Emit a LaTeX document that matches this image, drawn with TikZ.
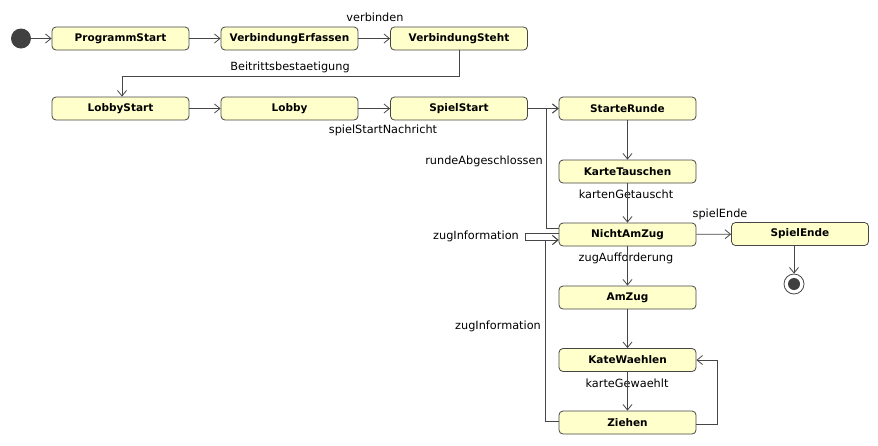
\documentclass[tikz,border=0pt]{standalone}
\usepackage{fontspec}
\setmainfont{DejaVu Sans}
\usetikzlibrary{arrows.meta}

\definecolor{statefill}{RGB}{255,255,204}
\definecolor{stateline}{RGB}{70,70,70}
\definecolor{dotfill}{RGB}{64,64,64}

\tikzset{
    state/.style={draw=stateline, fill=statefill, rounded corners=4pt, line width=0.8pt,
        minimum width=137pt, minimum height=23pt, inner sep=0pt,
        font=\fontsize{10.5}{12}\selectfont\bfseries},
    trans/.style={draw=stateline, line width=0.8pt, -{Straight Barb[length=5.5pt,width=9pt]}},
    lbl/.style={font=\fontsize{11.3}{13}\selectfont, inner sep=0pt}
}

\begin{document}
\begin{tikzpicture}[x=1pt, y=-1pt]
    \useasboundingbox (0,0) rectangle (878,445);

    \node[circle, fill=dotfill, minimum size=20pt, inner sep=0pt] (start) at (21,38.5) {};
    \node[state] (programmstart) at (120.5,38.5) {ProgrammStart};
    \node[state] (verbindungerfassen) at (289.5,38.5) {VerbindungErfassen};
    \node[state] (verbindungsteht) at (459,38.5) {VerbindungSteht};

    \node[state] (lobbystart) at (120.5,108.5) {LobbyStart};
    \node[state] (lobby) at (289.5,108.5) {Lobby};
    \node[state] (spielstart) at (459,108.5) {SpielStart};

    \node[state] (starterunde) at (627.5,108.5) {StarteRunde};
    \node[state] (kartetauschen) at (627.5,171.5) {KarteTauschen};
    \node[state] (nichtamzug) at (627.5,234.5) {NichtAmZug};
    \node[state] (spielende) at (800,234) {SpielEnde};
    \node[state] (amzug) at (627.5,297.5) {AmZug};
    \node[state] (katewaehlen) at (627.5,360) {KateWaehlen};
    \node[state] (ziehen) at (627.5,422.5) {Ziehen};

    \node[circle, draw=stateline, fill=white, line width=0.8pt, minimum size=20pt, inner sep=0pt] (ende) at (794,284) {};
    \fill[dotfill] (ende) circle (6pt);

    \node[lbl] (verbinden) at (375,17) {verbinden};
    \node[lbl] (beitritt) at (290,67) {Beitrittsbestaetigung};
    \node[lbl] (spielstartnachricht) at (383,130) {spielStartNachricht};
    \node[lbl] (rundeabgeschlossen) at (484,161) {rundeAbgeschlossen};
    \node[lbl] (kartengetauscht) at (626,194) {kartenGetauscht};
    \node[lbl] (spielendelbl) at (720,214) {spielEnde};
    \node[lbl] (zuginfooben) at (476,236) {zugInformation};
    \node[lbl] (zugaufforderung) at (626,258) {zugAufforderung};
    \node[lbl] (zuginfounten) at (498,326) {zugInformation};
    \node[lbl] (kartegewaehlt) at (627,383) {karteGewaehlt};

    \draw[trans] (start) -- (programmstart);
    \draw[trans] (programmstart) -- (verbindungerfassen);
    \draw[trans] (verbindungerfassen) -- (verbindungsteht);
    \draw[trans] (verbindungsteht.south) -- ++(0,26) -| ([xshift=1.5pt]lobbystart.north);

    \draw[trans] (lobbystart) -- (lobby);
    \draw[trans] (lobby) -- (spielstart);
    \draw[trans] (spielstart) -- (starterunde);
    \draw[trans] ([yshift=6.5pt]nichtamzug.west) -- ++(-12,0) |- (starterunde.west);

    \draw[trans] (starterunde) -- (kartetauschen);
    \draw[trans] (kartetauschen) -- (nichtamzug);
    \draw[trans] (nichtamzug) -- (spielende);
    \draw[trans] (spielende.south -| ende) -- (ende);
    \draw[trans] ([yshift=1.5pt]nichtamzug.west) -- ++(-33,0) |- ([yshift=-5.5pt]nichtamzug.west);

    \draw[trans] (nichtamzug) -- (amzug);
    \draw[trans] (amzug) -- (katewaehlen);
    \draw[trans] (katewaehlen) -- (ziehen);
    \draw[trans] ([yshift=-1.5pt]ziehen.east) -- ++(21,0) |- (katewaehlen.east);
    \draw[trans] ([yshift=1.5pt]ziehen.west) -- ++(-13,0) |- ([yshift=-5.5pt]nichtamzug.west);
\end{tikzpicture}
\end{document}
